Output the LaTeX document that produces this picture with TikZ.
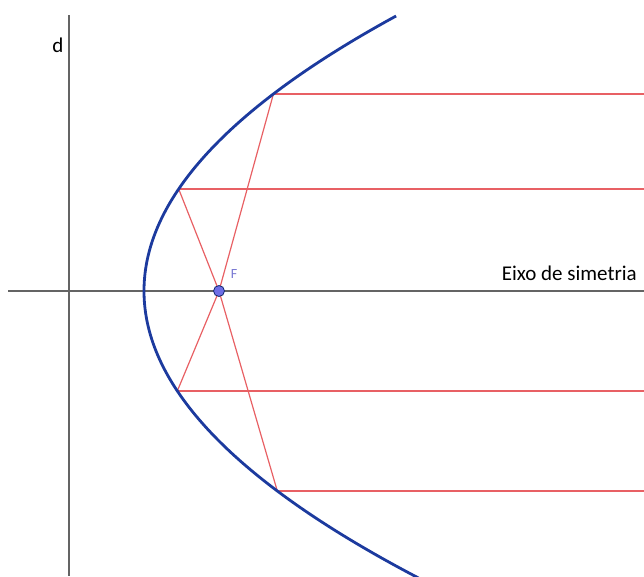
\documentclass[tikz,border=0pt]{standalone}
\usepackage{fontspec}
\setmainfont{Carlito}
\definecolor{parab}{RGB}{28,58,158}
\definecolor{ray}{RGB}{232,96,100}
\definecolor{axisgray}{RGB}{100,100,100}
\definecolor{fpt}{RGB}{110,110,230}
\definecolor{flab}{RGB}{120,120,210}
\begin{document}
\begin{tikzpicture}[x=1pt,y=-1pt,
  axisline/.style={draw=axisgray,line width=1.4pt},
  rayline/.style={draw=ray,line width=1.2pt},
  curve/.style={draw=parab,line width=2.8pt},
  lbl/.style={inner sep=0pt,font=\fontsize{21}{21}\selectfont}]
\useasboundingbox (0,0) rectangle (644,576);
% axes
\coordinate (dtop) at (69,15);
\coordinate (dbot) at (69,576);
\coordinate (xl) at (8,291);
\coordinate (xr) at (644,291);
\draw[axisline] (dtop) -- (dbot);
\draw[axisline] (xl) -- (xr);
% points on parabola
\coordinate (F) at (219,291);
\coordinate (P1) at (273.4,94);
\coordinate (P2) at (178.7,189);
\coordinate (P3) at (177.3,391);
\coordinate (P4) at (277.3,491);
\coordinate (E1) at (644,94);
\coordinate (E2) at (644,189);
\coordinate (E3) at (644,391);
\coordinate (E4) at (644,491);
% rays
\draw[rayline] (P1) -- (E1);
\draw[rayline] (P2) -- (E2);
\draw[rayline] (P3) -- (E3);
\draw[rayline] (P4) -- (E4);
\draw[rayline] (P1) -- (F);
\draw[rayline] (P2) -- (F);
\draw[rayline] (P3) -- (F);
\draw[rayline] (P4) -- (F);
% parabola
\draw[curve] plot[domain=16:578,samples=200,smooth,variable=\t] ({144+((\t-291)/10)*((\t-291)/10)/3},\t);
% focus
\node[circle,fill=fpt,draw=parab!70!black,line width=0.8pt,minimum size=11pt,inner sep=0pt] (Fp) at (F) {};
\node[inner sep=0pt,text=flab,font=\fontsize{14}{14}\selectfont] (Fl) at (234,274) {F};
\node[lbl] (dl) at (58,45) {d};
\node[lbl,anchor=east] (axl) at (637,273) {Eixo de simetria};
\end{tikzpicture}
\end{document}
